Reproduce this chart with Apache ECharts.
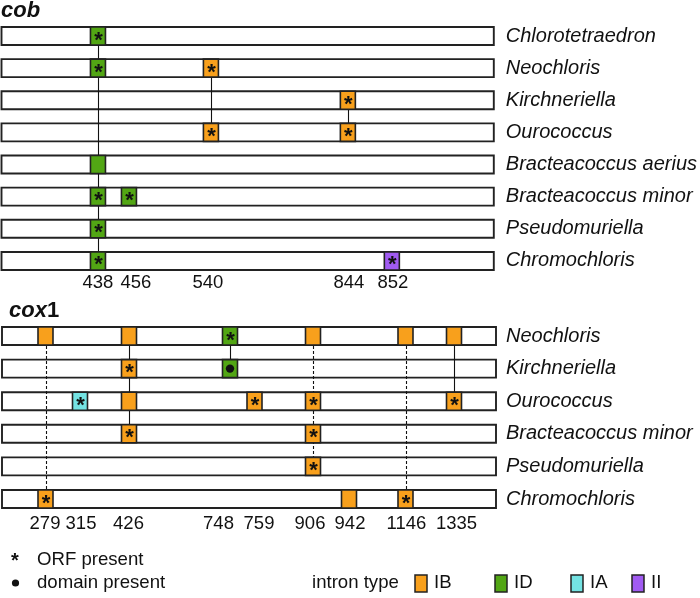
<!DOCTYPE html>
<html><head><meta charset="utf-8">
<script src="https://cdn.jsdelivr.net/npm/echarts@6/dist/echarts.min.js"></script>
<style>html,body{margin:0;padding:0;background:#fff}#c{width:700px;height:598px}</style>
</head><body><div id="c"></div>
<script>
// ---------------- DATA ----------------
// cob gene
const cobSpecies = ['Chlorotetraedron','Neochloris','Kirchneriella','Ourococcus','Bracteacoccus aerius','Bracteacoccus minor','Pseudomuriella','Chromochloris'];
const cobSites = ['438','456','540','844','852'];
const cobSitePos = [98,129,211,348,392];        // schematic position of each insertion site (axis units)
const cobSiteLabelPos = [98,136,208,349,393];   // where each site number is written
// introns: [site index, species index, intron type, mark ('orf' | 'domain' | '')]
const cobIntrons = [
  [0,0,'ID','orf'],
  [0,1,'ID','orf'], [2,1,'IB','orf'],
  [3,2,'IB','orf'],
  [2,3,'IB','orf'], [3,3,'IB','orf'],
  [0,4,'ID',''],
  [0,5,'ID','orf'], [1,5,'ID','orf'],
  [0,6,'ID','orf'],
  [0,7,'ID','orf'], [4,7,'II','orf']
];
// homology links: [site index, from species, to species, dashed]
const cobLinks = [[0,0,7,0],[2,1,3,0],[3,2,3,0]];

// cox1 gene
const coxSpecies = ['Neochloris','Kirchneriella','Ourococcus','Bracteacoccus minor','Pseudomuriella','Chromochloris'];
const coxSites = ['279','315','426','748','759','906','942','1146','1335'];
const coxSitePos = [45.5,80,129,230,254.5,313,349,405.5,454];
const coxSiteLabelPos = [45,81,128.5,218.5,259,310,350,406.5,456.5];
const coxIntrons = [
  [0,0,'IB',''], [2,0,'IB',''], [3,0,'ID','orf'], [5,0,'IB',''], [7,0,'IB',''], [8,0,'IB',''],
  [2,1,'IB','orf'], [3,1,'ID','domain'],
  [1,2,'IA','orf'], [2,2,'IB',''], [4,2,'IB','orf'], [5,2,'IB','orf'], [8,2,'IB','orf'],
  [2,3,'IB','orf'], [5,3,'IB','orf'],
  [5,4,'IB','orf'],
  [0,5,'IB','orf'], [6,5,'IB',''], [7,5,'IB','orf']
];
const coxLinks = [[0,0,5,1],[2,0,3,0],[3,0,1,0],[5,0,4,1],[7,0,5,1],[8,0,2,0]];

const intronTypes = ['IB','ID','IA','II'];
const legendMarks = ['ORF present','domain present'];

// ---------------- STYLE ----------------
const FONT = '"Liberation Sans", Arial, Helvetica, sans-serif';
const typeColor = {IB:'#F8A01C', ID:'#52A614', IA:'#74E3E3', II:'#A15BF2'};
const AXIS_MAX = 496;
const cobSpan = [1.5, 494];
const coxSpan = [2, 496];
const BAR_H = 18, BOX_W = 15;

const chart = echarts.init(document.getElementById('c'), null, {renderer:'canvas'});

function barSeries(gi, species, span) {
  return {
    type:'custom', xAxisIndex:gi, yAxisIndex:gi, silent:true, z:1,
    data: species.map((s,i)=>[span[0], i, span[1]]),
    encode:{x:0, y:1},
    renderItem:(p, api)=>{
      const a = api.coord([api.value(0), api.value(1)]);
      const b = api.coord([api.value(2), api.value(1)]);
      return {type:'rect', shape:{x:a[0], y:a[1]-BAR_H/2, width:b[0]-a[0], height:BAR_H},
        style:{fill:'#fff', stroke:'#222', lineWidth:1.9}};
    }
  };
}
function linkSeries(gi, links, sitePos) {
  return {
    type:'custom', xAxisIndex:gi, yAxisIndex:gi, silent:true, z:2,
    data: links.map(l=>[sitePos[l[0]], l[1], l[2], l[3]]),
    encode:{x:0, y:1},
    renderItem:(p, api)=>{
      const a = api.coord([api.value(0), api.value(1)]);
      const b = api.coord([api.value(0), api.value(2)]);
      const x = Math.round(a[0]) + 0.5;
      return {type:'line', shape:{x1:x, y1:a[1], x2:x, y2:b[1]},
        style:{stroke:'#111', lineWidth:1.1, lineDash: api.value(3) ? [3,2] : null}};
    }
  };
}
function intronSeries(gi, introns, sitePos) {
  return {
    type:'custom', xAxisIndex:gi, yAxisIndex:gi, silent:true, z:3,
    data: introns.map(d=>[sitePos[d[0]], d[1]]),
    encode:{x:0, y:1},
    renderItem:(p, api)=>{
      const d = introns[p.dataIndex];
      const c = api.coord([api.value(0), api.value(1)]);
      const children = [{type:'rect', shape:{x:c[0]-BOX_W/2, y:c[1]-BAR_H/2, width:BOX_W, height:BAR_H},
        style:{fill:typeColor[d[2]], stroke:'#222', lineWidth:1.6}}];
      if (d[3]==='orf') children.push({type:'text', style:{text:'*', x:c[0]+0.5, y:c[1]+4.5, align:'center', verticalAlign:'middle',
        font:'bold 22px '+FONT, fill:'#111'}});
      if (d[3]==='domain') children.push({type:'circle', shape:{cx:c[0], cy:c[1], r:4.2}, style:{fill:'#111'}});
      return {type:'group', children};
    }
  };
}
function siteLabelSeries(gi, sites, labelPos, lastRow, dy) {
  return {
    type:'custom', xAxisIndex:gi, yAxisIndex:gi, silent:true, z:3,
    data: sites.map((s,i)=>[labelPos[i], lastRow]),
    encode:{x:0, y:1},
    renderItem:(p, api)=>{
      const c = api.coord([api.value(0), api.value(1)]);
      return {type:'text', style:{text:sites[p.dataIndex], x:c[0], y:c[1]+dy, align:'center', verticalAlign:'middle',
        font:'18.5px '+FONT, fill:'#111'}};
    }
  };
}

const legendGraphic = [];
legendGraphic.push({type:'text', left:11, top:551, style:{text:'*', font:'bold 20px '+FONT, fill:'#111'}});
legendGraphic.push({type:'text', left:37, top:550, style:{text:legendMarks[0], font:'18.6px '+FONT, fill:'#111'}});
legendGraphic.push({type:'circle', shape:{cx:15.5, cy:583, r:3.6}, style:{fill:'#111'}});
legendGraphic.push({type:'text', left:37, top:573, style:{text:legendMarks[1], font:'18.6px '+FONT, fill:'#111'}});
legendGraphic.push({type:'text', left:312, top:573, style:{text:'intron type', font:'18.6px '+FONT, fill:'#111'}});
const legBoxX = [415, 495, 571, 632];
intronTypes.forEach((t,i)=>{
  legendGraphic.push({type:'rect', shape:{x:legBoxX[i], y:575, width:12, height:17}, style:{fill:typeColor[t], stroke:'#222', lineWidth:1.5}});
  legendGraphic.push({type:'text', left:legBoxX[i]+19, top:573, style:{text:t, font:'18.6px '+FONT, fill:'#111'}});
});

const yLabel = {show:true, fontSize:20, fontStyle:'italic', fontFamily:FONT, color:'#111', margin:10, align:'left'};
const option = {
  animation:false,
  backgroundColor:'#fff',
  title:[
    {text:'cob', left:1, top:0, padding:0, textStyle:{fontStyle:'italic', fontWeight:'bold', fontSize:22, fontFamily:FONT, color:'#111'}},
    {text:'{a|cox}{b|1}', left:9, top:300, padding:0, textStyle:{fontFamily:FONT, rich:{
      a:{fontStyle:'italic', fontWeight:'bold', fontSize:22, fontFamily:FONT, color:'#111'},
      b:{fontWeight:'bold', fontSize:22, fontFamily:FONT, color:'#111'}}}}
  ],
  grid:[
    {left:0, width:AXIS_MAX, top:19.9, height:257.1},
    {left:0, width:AXIS_MAX, top:319.7, height:195.6}
  ],
  xAxis:[
    {gridIndex:0, type:'value', min:0, max:AXIS_MAX, show:false},
    {gridIndex:1, type:'value', min:0, max:AXIS_MAX, show:false}
  ],
  yAxis:[
    {gridIndex:0, type:'category', data:cobSpecies, inverse:true, position:'right', axisLine:{show:false}, axisTick:{show:false}, splitLine:{show:false}, axisLabel:yLabel},
    {gridIndex:1, type:'category', data:coxSpecies, inverse:true, position:'right', axisLine:{show:false}, axisTick:{show:false}, splitLine:{show:false}, axisLabel:yLabel}
  ],
  graphic: legendGraphic,
  series:[
    barSeries(0, cobSpecies, cobSpan),
    linkSeries(0, cobLinks, cobSitePos),
    intronSeries(0, cobIntrons, cobSitePos),
    siteLabelSeries(0, cobSites, cobSiteLabelPos, cobSpecies.length-1, 21.5),
    barSeries(1, coxSpecies, coxSpan),
    linkSeries(1, coxLinks, coxSitePos),
    intronSeries(1, coxIntrons, coxSitePos),
    siteLabelSeries(1, coxSites, coxSiteLabelPos, coxSpecies.length-1, 25)
  ]
};
chart.setOption(option);
</script></body></html>
